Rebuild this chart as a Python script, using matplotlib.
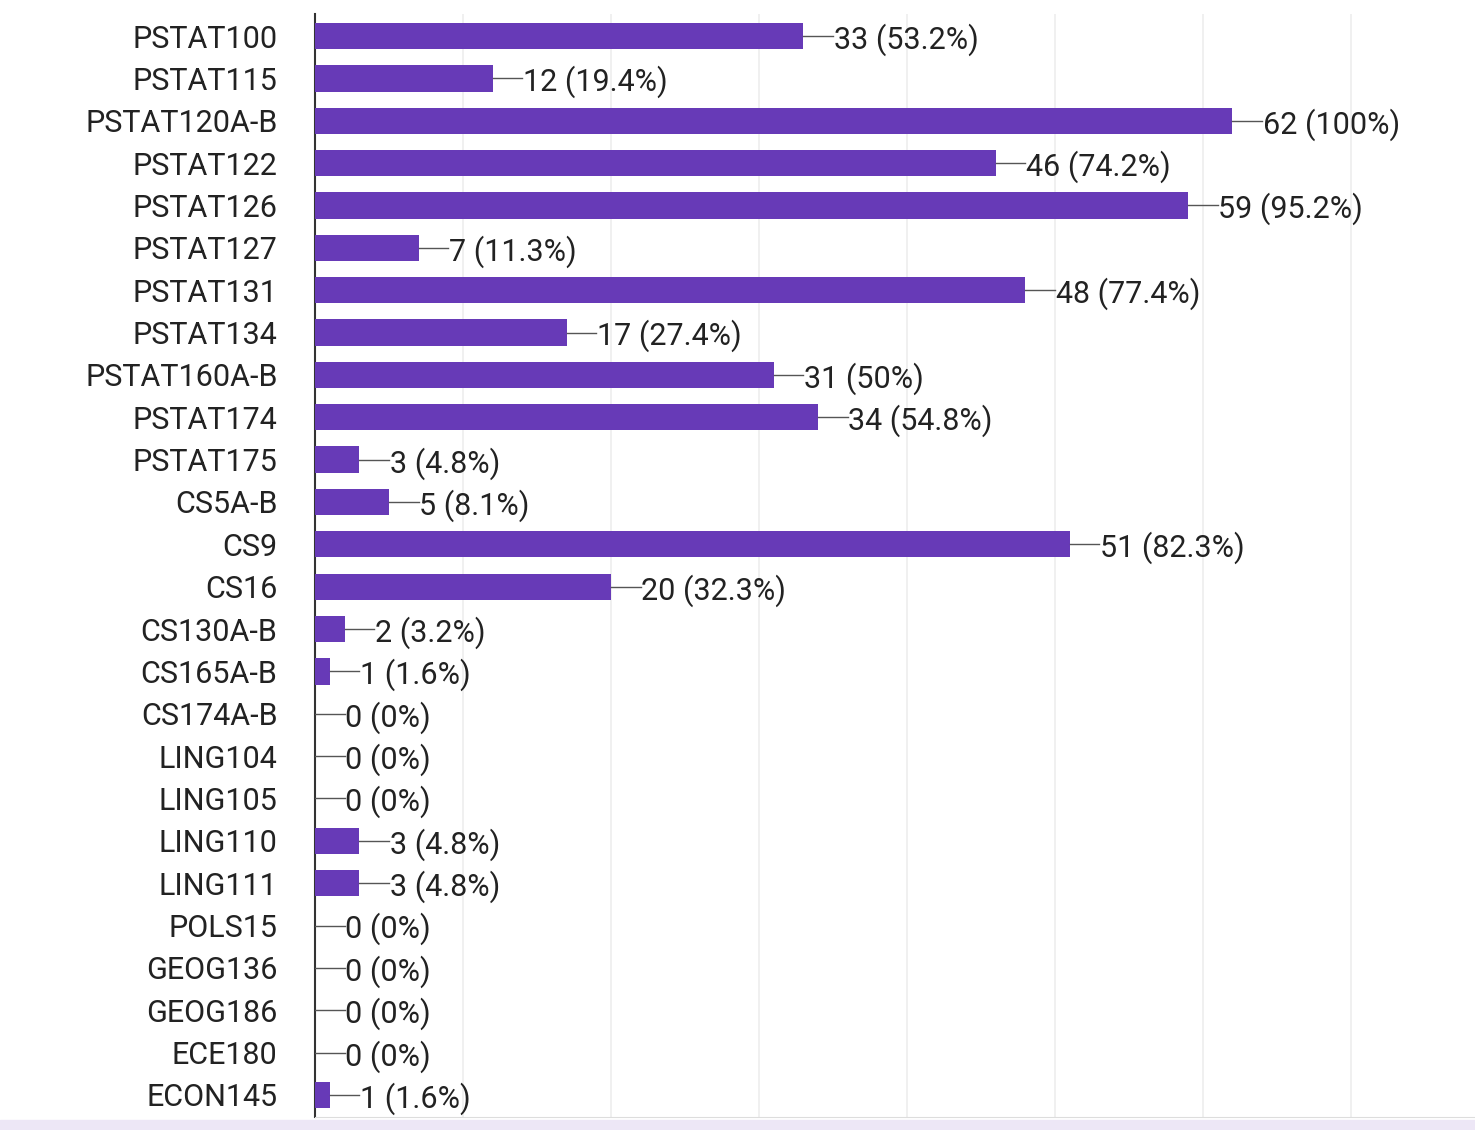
import matplotlib
matplotlib.use("Agg")
import matplotlib.pyplot as plt

categories = ["PSTAT100","PSTAT115","PSTAT120A-B","PSTAT122","PSTAT126","PSTAT127","PSTAT131",
              "PSTAT134","PSTAT160A-B","PSTAT174","PSTAT175","CS5A-B","CS9","CS16","CS130A-B",
              "CS165A-B","CS174A-B","LING104","LING105","LING110","LING111","POLS15","GEOG136",
              "GEOG186","ECE180","ECON145"]
counts = [33,12,62,46,59,7,48,17,31,34,3,5,51,20,2,1,0,0,0,3,3,0,0,0,0,1]
pcts = ["53.2%","19.4%","100%","74.2%","95.2%","11.3%","77.4%","27.4%","50%","54.8%","4.8%","8.1%",
        "82.3%","32.3%","3.2%","1.6%","0%","0%","0%","4.8%","4.8%","0%","0%","0%","0%","1.6%"]

plt.rcParams['font.family'] = ['Roboto', 'DejaVu Sans']
fig = plt.figure(figsize=(14.75, 11.3), dpi=100)
fig.patch.set_facecolor("white")
ax = fig.add_axes([315/1475, 1 - 1117/1130, 1160/1475, (1117-14)/1130])
n = len(categories)
y = list(range(n))
ax.barh(y, counts, height=0.62, color="#673ab7", zorder=3)
for yi, c, p in zip(y, counts, pcts):
    ax.plot([c, c + 2.0], [yi, yi], color="#555555", lw=1, zorder=3)
    ax.text(c + 2.05, yi, f"{c} ({p})", va="center_baseline", ha="left", fontsize=22, color="#222222")
ax.set_ylim(n - 0.5 + 0.02, -0.5 - 0.02)
ax.set_xlim(0, 78.4)
ax.set_yticks(y)
ax.set_yticklabels(categories, fontsize=22, color="#222222", va="center_baseline")
ax.tick_params(axis='y', length=0, pad=27)
ax.set_xticks(range(10, 71, 10))
ax.tick_params(axis='x', length=0, labelbottom=False)
ax.grid(axis='x', color="#eeeeee", lw=1.2, zorder=0)
for s in ["top", "right"]:
    ax.spines[s].set_visible(False)
ax.spines["bottom"].set_color("#dddddd")
ax.spines["left"].set_color("#333333")
ax.spines["left"].set_linewidth(1.5)
fig.patches.append(plt.Rectangle((0, 0), 1, 10/1130, transform=fig.transFigure, color="#ede7f6", zorder=0))
fig.savefig("out.png", dpi=100)
